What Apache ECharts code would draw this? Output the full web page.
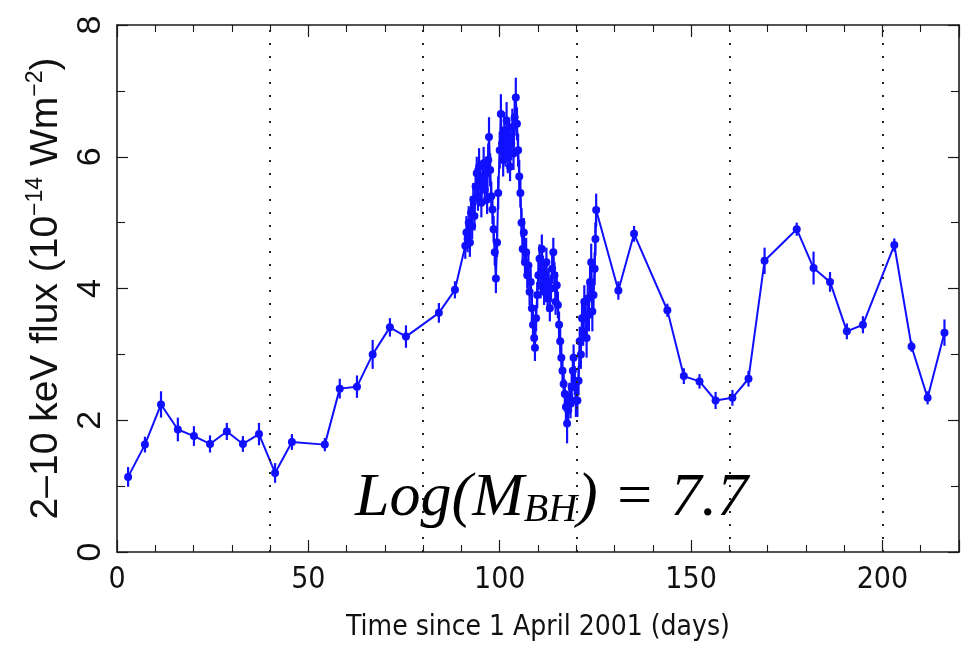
<!DOCTYPE html>
<html>
<head>
<meta charset="utf-8">
<script src="https://cdn.jsdelivr.net/npm/echarts@6/dist/echarts.min.js"></script>
<style>
html,body{margin:0;padding:0;background:#fff;}
#chart{width:969px;height:648px;}
</style>
</head>
<body>
<div id="chart"></div>
<script>
// Time since 1 April 2001 (days)
const days = [
  2.9, 7.3, 11.5, 15.9, 20.1, 24.3, 28.7, 32.9, 37.1, 41.3, 45.7, 54.3, 58.2, 62.7, 66.8, 71.3, 75.5, 84.1, 88.3,
  91.0, 91.3, 91.6, 91.9, 92.2, 92.5, 92.8, 93.1, 93.4, 93.7, 94.0, 94.3, 94.6, 94.9, 95.2, 95.5, 95.8, 96.1, 96.4, 96.7,
  97.0, 97.2, 97.5, 97.8, 98.1, 98.4, 98.7, 99.0, 99.3, 99.6, 100.0, 100.3, 100.6, 100.9, 101.2, 101.5, 101.8, 102.1,
  102.4, 102.7, 103.0, 103.3, 103.6, 103.9, 104.2, 104.5, 104.8, 105.1, 105.4, 105.7, 106.0, 106.3, 106.6, 106.9,
  107.2, 107.5, 107.8, 108.1, 108.4, 108.7, 109.0, 109.2, 109.5, 109.8, 110.1, 110.4, 110.7, 111.0, 111.3, 111.6,
  111.9, 112.2, 112.5, 112.8, 113.1, 113.4, 113.7, 114.0, 114.3, 114.6, 114.9, 115.2, 115.5, 115.8, 116.1, 116.4,
  116.7, 117.0, 117.3, 117.6, 117.9, 118.2, 118.5, 118.8, 119.1, 119.3, 119.6, 119.9, 120.3, 120.6, 120.9, 121.2,
  121.5, 121.8, 122.1, 122.4, 122.7, 123.0, 123.3, 123.6, 123.9, 124.2, 124.5, 124.8, 125.0,
  125.2, 131.0, 135.1, 143.8, 148.1, 152.2, 156.4, 160.8, 165.0, 169.2, 177.6, 182.0, 186.3, 190.7, 194.9,
  203.1, 207.6, 211.8, 216.2
];
// 2-10 keV flux (1e-14 W m^-2)
const flux = [
  1.14, 1.63, 2.24, 1.86, 1.76, 1.64, 1.83, 1.64, 1.79, 1.20, 1.67, 1.63, 2.48, 2.51, 3.00, 3.41, 3.27, 3.63, 3.98,
  4.65, 4.85, 4.75, 5.00, 4.70, 5.15, 4.95, 5.35, 5.10, 5.55, 5.75, 5.40, 5.85, 5.60, 5.30, 5.70, 5.90, 5.50, 5.75, 5.35,
  5.95, 6.30, 5.80, 5.40, 5.20, 4.90, 4.55, 4.15, 4.70, 5.45, 6.10, 6.65, 6.20, 5.95, 6.40, 6.10, 6.55, 6.00,
  6.30, 5.85, 6.20, 6.45, 6.05, 6.60, 6.90, 6.50, 6.10, 5.70, 5.45, 5.00, 4.60, 4.85, 4.40, 4.55,
  4.20, 4.35, 3.95, 4.10, 3.70, 3.45, 3.25, 3.10, 3.55, 3.90, 4.20, 4.45, 4.05, 4.60, 4.30, 3.95,
  4.20, 4.40, 3.85, 4.10, 3.70, 4.00, 4.30, 4.55, 4.20, 3.80, 4.05, 3.75, 3.45, 3.20, 2.95, 2.75,
  2.55, 2.40, 2.20, 1.95, 2.15, 2.35, 2.25, 2.50, 2.75, 2.95, 2.60, 2.30, 2.30, 2.60, 3.20, 3.00,
  3.55, 3.35, 3.80, 3.60, 3.25, 3.85, 3.60, 4.10, 4.40, 3.65, 3.90, 4.30, 4.75,
  5.19, 3.97, 4.83, 3.67, 2.67, 2.59, 2.30, 2.34, 2.63, 4.42, 4.90, 4.31, 4.10, 3.35, 3.45,
  4.66, 3.12, 2.34, 3.33
];
// 1-sigma error half-lengths
const fluxErr = [
  0.15, 0.12, 0.20, 0.18, 0.15, 0.13, 0.13, 0.12, 0.17, 0.15, 0.12, 0.10, 0.15, 0.17, 0.22, 0.14, 0.17, 0.15, 0.13,
  0.20, 0.25, 0.20, 0.25, 0.22, 0.25, 0.20, 0.25, 0.22, 0.28, 0.25, 0.22, 0.28, 0.25, 0.22, 0.25, 0.25, 0.22, 0.25, 0.22,
  0.25, 0.30, 0.25, 0.22, 0.22, 0.20, 0.20, 0.22, 0.22, 0.25, 0.28, 0.30, 0.25, 0.25, 0.28, 0.25, 0.28, 0.25,
  0.25, 0.22, 0.25, 0.28, 0.25, 0.28, 0.30, 0.25, 0.25, 0.25, 0.22, 0.22, 0.20, 0.22, 0.20, 0.22,
  0.20, 0.20, 0.20, 0.20, 0.20, 0.20, 0.20, 0.20, 0.20, 0.20, 0.22, 0.22, 0.20, 0.22, 0.20, 0.20,
  0.20, 0.22, 0.20, 0.20, 0.20, 0.20, 0.22, 0.22, 0.20, 0.20, 0.20, 0.20, 0.20, 0.20, 0.20, 0.20,
  0.20, 0.22, 0.25, 0.30, 0.25, 0.22, 0.22, 0.22, 0.20, 0.20, 0.22, 0.25, 0.25, 0.22, 0.22, 0.22,
  0.22, 0.22, 0.25, 0.22, 0.30, 0.25, 0.25, 0.25, 0.28, 0.30, 0.25, 0.25, 0.25,
  0.25, 0.14, 0.12, 0.10, 0.12, 0.11, 0.13, 0.12, 0.12, 0.20, 0.10, 0.25, 0.15, 0.12, 0.13,
  0.10, 0.08, 0.10, 0.20
];
// dotted vertical reference lines (days)
const markerDays = [40, 80, 120, 160, 200];
const xRange = [0, 220];
const yRange = [0, 8];

const blue = '#1010ff';
const chart = echarts.init(document.getElementById('chart'));

const points = days.map((d, i) => [d, flux[i]]);
const errData = days.map((d, i) => [d, flux[i] - fluxErr[i], flux[i] + fluxErr[i]]);

const condensed = '"Liberation Sans Narrow", "DejaVu Sans Condensed", "Liberation Sans", Arial, sans-serif';
const axisLineStyle = { color: '#1a1a1a', width: 1.6 };
const xCommon = {
  type: 'value', min: xRange[0], max: xRange[1], interval: 50,
  axisLine: { show: true, onZero: false, lineStyle: axisLineStyle },
  axisTick: { show: true, inside: true, length: 12, lineStyle: { color: '#1a1a1a', width: 1.2 } },
  minorTick: { show: true, splitNumber: 5, length: 7, lineStyle: { color: '#1a1a1a', width: 1.1 } },
  splitLine: { show: false }
};
const yCommon = {
  type: 'value', min: yRange[0], max: yRange[1], interval: 2,
  axisLine: { show: true, onZero: false, lineStyle: axisLineStyle },
  axisTick: { show: true, inside: true, length: 11, lineStyle: { color: '#1a1a1a', width: 1.2 } },
  minorTick: { show: true, splitNumber: 2, length: 8, lineStyle: { color: '#1a1a1a', width: 1.1 } },
  splitLine: { show: false }
};

chart.setOption({
  backgroundColor: '#ffffff',
  animation: false,
  grid: { left: 117, right: 10, top: 25, bottom: 96, containLabel: false, outerBoundsMode: 'none' },
  xAxis: [
    Object.assign({}, xCommon, {
      position: 'bottom',
      name: 'Time since 1 April 2001 (days)',
      nameLocation: 'middle', nameGap: 62,
      nameTextStyle: { fontFamily: condensed, fontSize: 28, color: '#111' },
      axisLabel: { margin: 13, showMaxLabel: false, fontFamily: condensed, fontSize: 30, color: '#111' }
    }),
    Object.assign({}, xCommon, { position: 'top', axisLabel: { show: false } })
  ],
  yAxis: [
    Object.assign({}, yCommon, {
      position: 'left',
      name: '{a|2–10 keV flux (10}{s|−14}{a| Wm}{s|−2}{a|)}',
      nameLocation: 'middle', nameGap: 40, nameRotate: 90,
      nameTextStyle: {
        color: '#111',
        rich: {
          a: { fontFamily: '"Liberation Sans", Arial, sans-serif', fontSize: 39, color: '#111', lineHeight: 42, verticalAlign: 'bottom' },
          s: { fontFamily: '"Liberation Sans", Arial, sans-serif', fontSize: 23, color: '#111', lineHeight: 42, verticalAlign: 'top' }
        }
      },
      axisLabel: { rotate: 90, margin: 9, fontFamily: '"Liberation Sans", Arial, sans-serif', fontSize: 34, color: '#111' }
    }),
    Object.assign({}, yCommon, { position: 'right', axisLabel: { show: false } })
  ],
  series: [
    {
      type: 'custom',
      name: 'errors',
      xAxisIndex: 0, yAxisIndex: 0,
      data: errData,
      encode: { x: 0, y: [1, 2] },
      z: 2,
      renderItem: function (params, api) {
        const x = api.value(0);
        const lo = api.coord([x, api.value(1)]);
        const hi = api.coord([x, api.value(2)]);
        return {
          type: 'line',
          shape: { x1: lo[0], y1: lo[1], x2: hi[0], y2: hi[1] },
          style: { stroke: blue, lineWidth: 2.2 }
        };
      }
    },
    {
      type: 'line',
      name: 'flux',
      xAxisIndex: 0, yAxisIndex: 0,
      data: points,
      z: 3,
      showAllSymbol: true,
      symbol: 'circle',
      symbolSize: 8,
      itemStyle: { color: blue },
      lineStyle: { color: blue, width: 2 },
      markLine: {
        silent: true,
        symbol: ['none', 'none'],
        label: { show: false },
        lineStyle: { color: '#222', width: 2, type: [2, 11] },
        data: markerDays.map(d => ({ xAxis: d }))
      }
    }
  ],
  graphic: [
    {
      type: 'text',
      left: 355, top: 468,
      style: {
        text: '{a|Log(M}{b|BH}{a|) = 7.7}',
        rich: {
          a: { fontFamily: '"Liberation Serif", "DejaVu Serif", serif', fontStyle: 'italic', fontSize: 62, fill: '#000', lineHeight: 70, verticalAlign: 'bottom' },
          b: { fontFamily: '"Liberation Serif", "DejaVu Serif", serif', fontStyle: 'italic', fontSize: 40, fill: '#000', lineHeight: 62, verticalAlign: 'bottom' }
        }
      }
    }
  ]
});
</script>
</body>
</html>
